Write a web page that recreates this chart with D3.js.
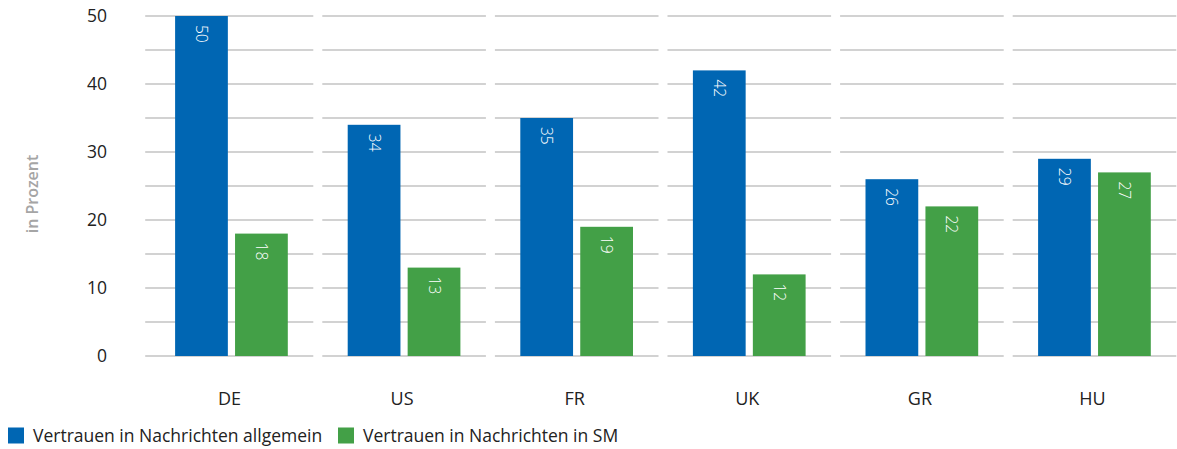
<!DOCTYPE html>
<html><head><meta charset="utf-8">
<script src="https://cdn.jsdelivr.net/npm/d3@7"></script>
<style>
html,body{margin:0;padding:0;background:#fff;}
svg{display:block;}
text{font-family:"Open Sans",sans-serif;}
</style></head>
<body>
<svg id="c" width="1177" height="449"></svg>
<script>
const categories = ["DE","US","FR","UK","GR","HU"];
const seriesNames = ["Vertrauen in Nachrichten allgemein","Vertrauen in Nachrichten in SM"];
const allgemein = [50,34,35,42,26,29];
const sm = [18,13,19,12,22,27];
const yTicks = [0,10,20,30,40,50];
const gridValues = [0,5,10,15,20,25,30,35,40,45,50];
const colors = ["#0066b3","#43a047"];
const yTitle = "in Prozent";
const FONT = "'Open Sans',sans-serif";

const svg = d3.select("#c");
const x0 = d3.scaleBand().domain(categories).range([145.2,1180.8]).padding(0);
const x1 = d3.scaleBand().domain(seriesNames).range([29.9,142.6]).paddingInner(0.12).paddingOuter(0);
const y = d3.scaleLinear().domain([0,50]).range([356,16]);
const bw = x0.bandwidth();

// gridlines, segmented per category
const grid = svg.append("g");
categories.forEach((c,i)=>{
  const xs = x0(c) + (i===0?0:4.5), xe = x0(c)+bw-4.5;
  grid.selectAll(null).data(gridValues).enter().append("line")
    .attr("x1",xs).attr("x2",xe)
    .attr("y1",d=>y(d)).attr("y2",d=>y(d))
    .attr("stroke","#d2d2d2").attr("stroke-width",2);
});

// y axis labels
const yAxis = d3.axisLeft(y).tickValues(yTicks).tickSize(0).tickPadding(0);
const yg = svg.append("g").attr("transform","translate(107,0)").call(yAxis);
yg.select(".domain").remove();
yg.selectAll("text").attr("font-size",17.5).attr("fill","#222").attr("font-family",FONT);

// x axis labels
const xAxis = d3.axisBottom(x0).tickSize(0).tickPadding(0);
const xg = svg.append("g").attr("transform","translate(-2,392)").call(xAxis);
xg.select(".domain").remove();
xg.selectAll("text").attr("font-size",18).attr("fill","#222").attr("font-family",FONT);

// y title
svg.append("text").attr("transform","translate(38,194) rotate(-90)")
  .attr("text-anchor","middle").attr("font-size",16).attr("font-weight",600)
  .attr("fill","#a5a5a5").text(yTitle);

// bars
const data = categories.map((c,i)=>({cat:c, vals:[allgemein[i], sm[i]]}));
const groups = svg.selectAll("g.grp").data(data).enter().append("g")
  .attr("class","grp").attr("transform",d=>`translate(${x0(d.cat)},0)`);
groups.selectAll("rect").data(d=>d.vals.map((v,j)=>({s:seriesNames[j],v,j})))
  .enter().append("rect")
  .attr("x",d=>x1(d.s)).attr("width",x1.bandwidth())
  .attr("y",d=>y(d.v)).attr("height",d=>y(0)-y(d.v))
  .attr("fill",d=>colors[d.j]);
groups.selectAll("text.val").data(d=>d.vals.map((v,j)=>({s:seriesNames[j],v,j})))
  .enter().append("text").attr("class","val")
  .attr("transform",d=>`translate(${x1(d.s)+x1.bandwidth()/2},${y(d.v)+9}) rotate(90)`)
  .attr("dy","0.35em").attr("text-anchor","start")
  .attr("font-size",15.5).attr("font-weight",300).attr("fill","#fff").text(d=>d.v);

// legend
const leg = svg.append("g");
const legX = [8,338];
seriesNames.forEach((s,i)=>{
  leg.append("rect").attr("x",legX[i]).attr("y",427.5).attr("width",16).attr("height",16).attr("fill",colors[i]);
  leg.append("text").attr("x",legX[i]+25).attr("y",442).attr("font-size",17.5).attr("fill","#222").text(s);
});
</script>
</body></html>
